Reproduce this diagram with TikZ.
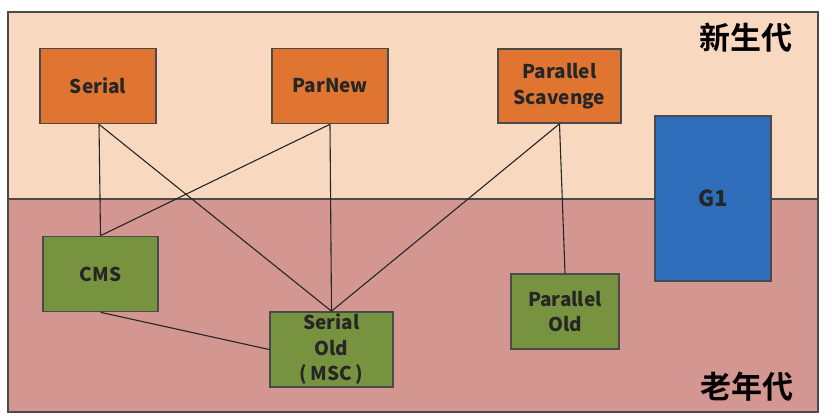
\documentclass[tikz,border=0pt]{standalone}
\usepackage{fontspec}
\setmainfont{Noto Sans CJK SC}
\newfontfamily\cjkb{Noto Sans CJK SC}[BoldFont={* Bold}]
\definecolor{peach}{HTML}{F8D8BE}
\definecolor{rose}{HTML}{D39690}
\definecolor{orangebox}{HTML}{E07532}
\definecolor{greenbox}{HTML}{789340}
\definecolor{bluebox}{HTML}{2D6DB9}
\definecolor{frame}{HTML}{4A4A4A}
\begin{document}
\begin{tikzpicture}[x=1pt,y=-1pt,
  box/.style={draw=frame,line width=1.6pt,font=\bfseries\fontsize{19}{25.5}\selectfont,align=center,inner sep=0pt,text=black!85},
  ybox/.style={box,fill=orangebox,minimum width=116pt,minimum height=75pt},
  obox/.style={box,fill=greenbox},
  conn/.style={draw=black!85,line width=1.1pt},
  lbl/.style={font=\cjkb\bfseries\fontsize{31}{33}\selectfont,inner sep=0pt}]
\useasboundingbox (0,0) rectangle (832,416);
\fill[white] (0,0) rectangle (832,416);
% bands
\fill[peach] (8,12) rectangle (818,199);
\fill[rose] (8,199) rectangle (818,412);
\draw[frame,line width=1.6pt] (8,12) rectangle (818,412);
\draw[frame,line width=1.6pt] (8,199) -- (818,199);
\node[lbl] (young) at (746,38) {新生代};
\node[lbl] (old) at (747,387) {老年代};
% young gen nodes
\node[ybox] (serial) at (98,86) {Serial};
\node[ybox] (parnew) at (330,86) {ParNew};
\node[ybox,minimum width=123pt,minimum height=74pt,align=center] (ps) at (559.5,86) {Parallel\\Scavenge};
% G1
\node[box,fill=bluebox,minimum width=116pt,minimum height=165pt,font=\bfseries\fontsize{22}{24}\selectfont] (g1) at (713,198.5) {G1};
% old gen nodes
\node[obox,minimum width=115pt,minimum height=75pt] (cms) at (100.5,274) {CMS};
\node[obox,minimum width=123pt,minimum height=75pt] (so) at (331.5,349.5) {Serial\\Old\\(\,MSC\,)};
\node[obox,minimum width=108pt,minimum height=75pt] (po) at (565,311.5) {Parallel\\Old};
% connectors
\coordinate (sB) at ([xshift=1pt]serial.south);
\coordinate (pnB) at (parnew.south);
\coordinate (psB) at (ps.south);
\draw[conn] (sB) -- (cms.north);
\draw[conn] (sB) -- (so.north);
\draw[conn] (pnB) -- (cms.north);
\draw[conn] (pnB) -- (so.north);
\draw[conn] (psB) -- (so.north);
\draw[conn] (psB) -- (po.north);
\draw[conn] (cms.south) -- (so.west);
\end{tikzpicture}
\end{document}
